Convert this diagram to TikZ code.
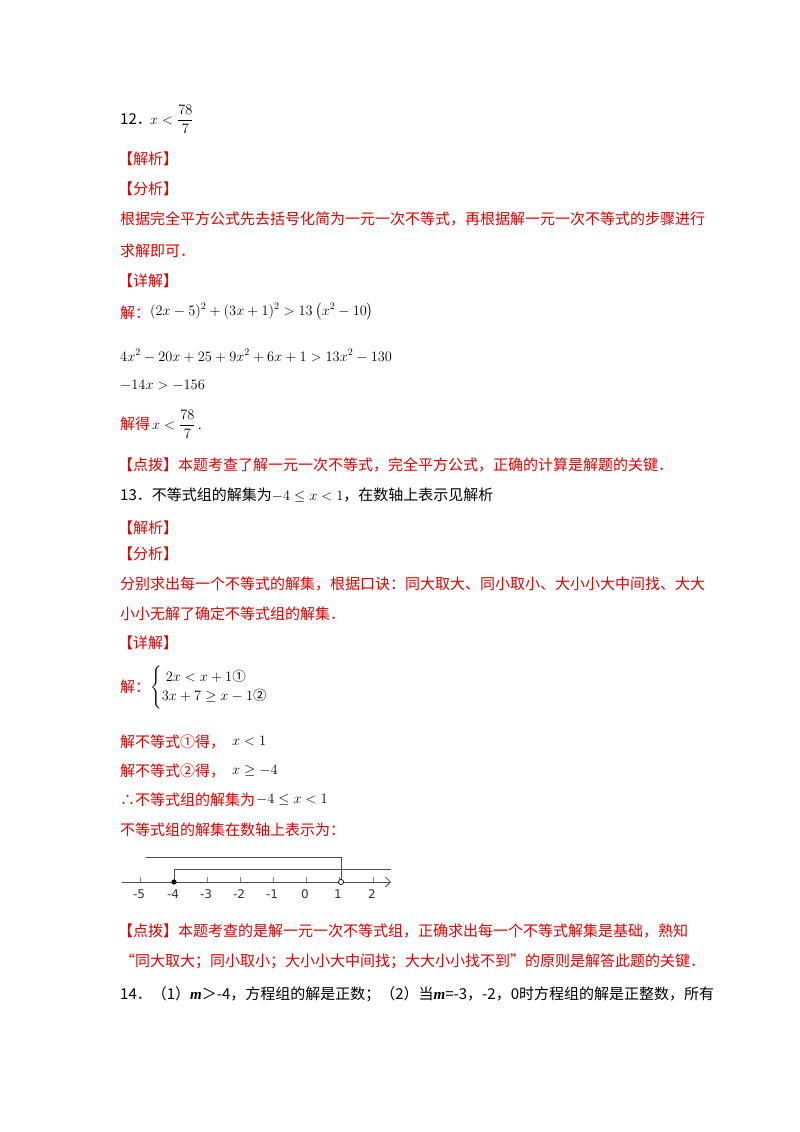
\documentclass[tikz,border=0pt]{standalone}
\usepackage{amsmath}
\usepackage{fontspec}
\usetikzlibrary{arrows.meta}
\setmainfont{Liberation Serif}
\newfontfamily\cjk{Noto Sans CJK SC}
\newfontfamily\axisf{DejaVu Sans}
\definecolor{rd}{RGB}{230,0,0}
\begin{document}
\begin{tikzpicture}[x=1pt,y=-1pt,
  t/.style={anchor=base west,inner sep=0pt,font=\cjk\fontsize{15}{18}\selectfont},
  r/.style={t,text=rd},
  m/.style={anchor=base west,inner sep=0pt,font=\fontsize{14}{17}\selectfont}]
\useasboundingbox (0,0) rectangle (800,1132);
\node[t] (a1) at (120,124) {12．};
\node[m] (a2) at (150,124) {$x<\dfrac{78}{7}$};
\node[r] (a3) at (118,164) {【解析】};
\node[r] (a4) at (118,194) {【分析】};
\node[r] (a5) at (120,224) {根据完全平方公式先去括号化简为一元一次不等式，再根据解一元一次不等式的步骤进行};
\node[r] (a6) at (120,256) {求解即可．};
\node[r] (a7) at (118,286) {【详解】};
\node[r] (a8) at (120,318) {解：};
\node[m] (a9) at (150,315) {$(2x-5)^2+(3x+1)^2>13\left(x^2-10\right)$};
\node[m] (a10) at (120,361) {$4x^2-20x+25+9x^2+6x+1>13x^2-130$};
\node[m] (a11) at (120,389) {$-14x>-156$};
\node[r] (a12) at (120,429) {解得};
\node[m] (a13) at (152,429) {$x<\dfrac{78}{7}$\,.};
\node[r] (a14) at (118,470) {【点拨】本题考查了解一元一次不等式，完全平方公式，正确的计算是解题的关键．};
\node[t] (b1) at (120,500) {13．不等式组的解集为\textrm{\fontsize{14}{17}\selectfont$-4\le x<1$}，在数轴上表示见解析};
\node[r] (b2) at (118,533) {【解析】};
\node[r] (b3) at (118,559) {【分析】};
\node[r] (b4) at (120,589) {分别求出每一个不等式的解集，根据口诀：同大取大、同小取小、大小小大中间找、大大};
\node[r] (b5) at (120,619) {小小无解了确定不等式组的解集．};
\node[r] (b6) at (118,648) {【详解】};
\node[r] (b7) at (120,692) {解：};
\node[m,font=\fontsize{13.5}{16}\selectfont] (b8) at (150,691) {$\begin{cases}\;2x<x+1\text{\cjk ①}\\ 3x+7\ge x-1\text{\cjk ②}\end{cases}$};
\node[r] (b9) at (120,747) {解不等式①得，};
\node[m] (b10) at (232,745) {$x<1$};
\node[r] (b11) at (120,776) {解不等式②得，};
\node[m] (b12) at (232,774) {$x\ge-4$};
\node[r] (b13) at (120,805) {∴不等式组的解集为};
\node[m] (b14) at (256,803) {$-4\le x<1$};
\node[r] (b15) at (120,835) {不等式组的解集在数轴上表示为：};
% number line
\coordinate (L) at (122,882); \coordinate (R) at (391,882);
\draw[gray!60!black,line width=0.8pt,-{Straight Barb[length=5pt]}] (L) -- (R);
\foreach \v/\xx in {-5/140,-4/174,-3/207,-2/240,-1/273,0/306,1/339,2/373}{
  \draw[gray,line width=0.6pt] (\xx,877) -- (\xx,882);
  \node[font=\axisf\fontsize{12}{14}\selectfont,text=gray!40!black] at (\xx-1,894) {\v};}
\coordinate (s1) at (146,857); \coordinate (c1) at (341,857); \coordinate (o1) at (341,882);
\coordinate (s2) at (391,869); \coordinate (c2) at (174,869); \coordinate (f2) at (174,882);
\draw[gray!60!black,line width=0.8pt] (s1) -- (c1) -- (o1);
\draw[gray!60!black,line width=0.8pt] (s2) -- (c2) -- (f2);
\fill (f2) circle (2.6);
\draw[fill=white,line width=0.7pt] (o1) circle (2.6);
\node[r] (c1t) at (118,936) {【点拨】本题考查的是解一元一次不等式组，正确求出每一个不等式解集是基础，熟知};
\node[r] (c2t) at (120,966) {“同大取大；同小取小；大小小大中间找；大大小小找不到”的原则是解答此题的关键．};
\node[t] (d1) at (120,999) {14．（1）\textrm{\bfseries\itshape m}＞-4，方程组的解是正数；（2）当\textrm{\bfseries\itshape m}=-3，-2，0时方程组的解是正整数，所有};
\end{tikzpicture}
\end{document}
